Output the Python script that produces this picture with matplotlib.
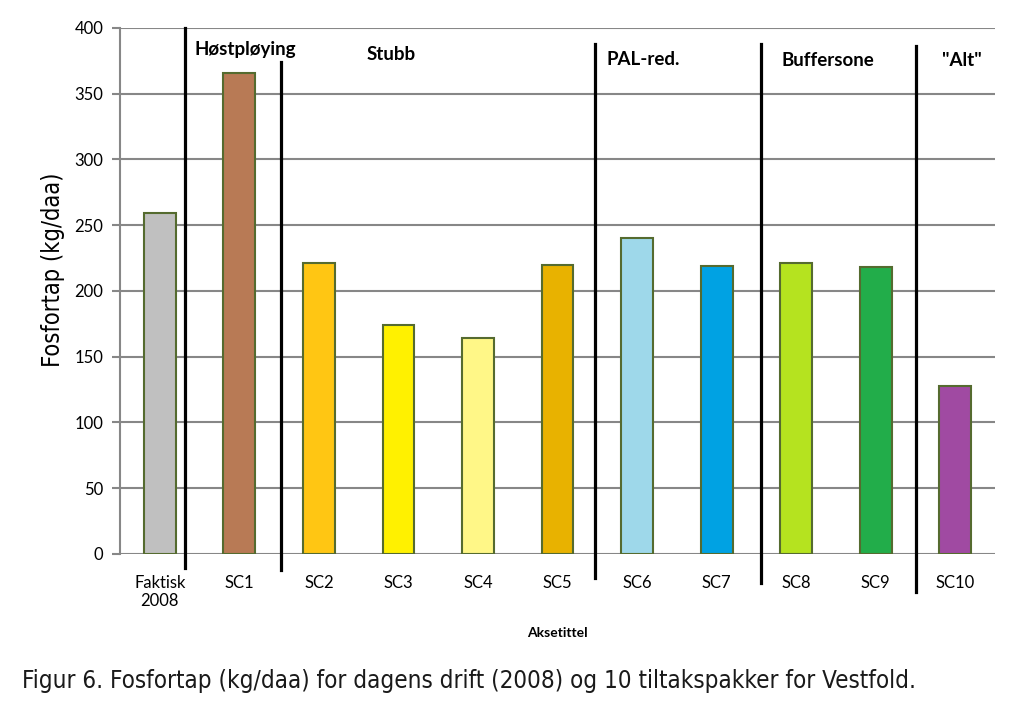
import numpy as np
import matplotlib
matplotlib.use('Agg')
from matplotlib import pyplot as plt

# Fosfortap per scenario (kg/daa)
kategorier = ['Faktisk\n2008', 'SC1', 'SC2', 'SC3', 'SC4', 'SC5', 'SC6', 'SC7', 'SC8', 'SC9', 'SC10']
verdier = [259, 366, 221, 174, 164, 220, 240, 219, 221, 218, 128]
farger = ['#C0C0C0', '#B87A55', '#FFC613', '#FFF100', '#FFF787', '#E8B200',
          '#9ED8EA', '#00A2E3', '#B5E31F', '#22AD4A', '#A04AA2']

# gruppeskiller (mellom kategorier) og gruppetekster
skiller = [0.32, 1.53, 5.47, 7.56, 9.51]
skiller_topp = [400, 374, 388, 388, 386]
skiller_bunn = [-11, -12, -18, -22, -29]
grupper = ['Høstpløying', 'Stubb', 'PAL-red.', 'Buffersone', '"Alt"']
grupper_x = [1.07, 2.91, 6.08, 8.4, 10.08]
grupper_y = [384, 380, 376, 375, 375]

plt.rcParams['font.family'] = ['Lato', 'DejaVu Sans']

fig = plt.figure(figsize=(10.12, 7.05), dpi=100)
ax = fig.add_axes([0.1186, 0.2142, 0.8646, 0.7461])

x = np.arange(len(kategorier))
ax.bar(x, verdier, width=0.4, color=farger, edgecolor='#556B2F', linewidth=1.5, zorder=3)

ax.set_ylim(0, 400)
ax.set_xlim(-0.5, len(kategorier) - 0.5)
ax.set_yticks(np.arange(0, 401, 50))
ax.yaxis.grid(True, color='#878787', linewidth=1.5, zorder=0)
ax.set_axisbelow(True)
for s in ['top', 'right', 'bottom']:
    ax.spines[s].set_visible(False)
ax.spines['left'].set_color('#878787')
ax.spines['left'].set_linewidth(1.5)
ax.tick_params(axis='y', colors='#878787', length=6, width=1.5, labelsize=12, labelcolor='black', pad=6)
ax.set_xticks(x)
ax.set_xticklabels(kategorier, fontsize=12)
ax.tick_params(axis='x', length=0, pad=15)

ax.set_ylabel('Fosfortap (kg/daa)', fontsize=17, family=['DejaVu Sans'], stretch='condensed')
ax.yaxis.set_label_coords(-0.063, 0.54)
ax.set_xlabel('Aksetittel', fontsize=10, fontweight='bold', labelpad=13)

for xs, yt, yb in zip(skiller, skiller_topp, skiller_bunn):
    ax.plot([xs, xs], [yb, yt], color='black', linewidth=2.3, clip_on=False, zorder=5)

for t, gx, gy in zip(grupper, grupper_x, grupper_y):
    ax.text(gx, gy, t, fontsize=13.5, fontweight='bold', ha='center', va='center', zorder=6)

fig.text(0.022, 0.034, 'Figur 6. Fosfortap (kg/daa) for dagens drift (2008) og 10 tiltakspakker for Vestfold.',
         fontsize=17.4, family=['DejaVu Sans'], stretch='condensed', ha='left', va='center', color='#1a1a1a')

fig.savefig('out.png', dpi=100)
